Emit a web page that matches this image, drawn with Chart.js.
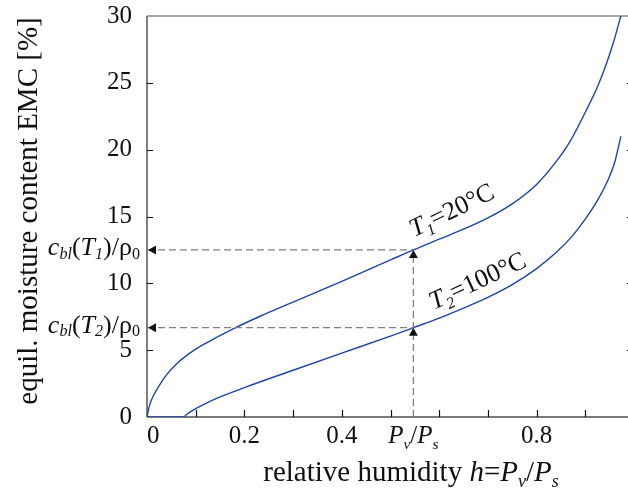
<!DOCTYPE html>
<html>
<head>
<meta charset="utf-8">
<script src="https://cdn.jsdelivr.net/npm/chart.js@4.4.1/dist/chart.umd.min.js"></script>
<style>
    html, body { margin: 0; padding: 0; background: #fff; overflow: hidden; }
    #wrap { position: relative; width: 640px; height: 490px; }
</style>
</head>
<body>
<div id="wrap"><canvas id="emc"></canvas></div>
<script>
// T1 = 20 degC isotherm
const H_T1 = [0, 0.005, 0.012, 0.025, 0.04, 0.06, 0.085, 0.11, 0.14, 0.18, 0.23, 0.3, 0.4, 0.5, 0.547,
    0.6, 0.65, 0.7, 0.75, 0.8, 0.84, 0.87, 0.9, 0.925, 0.945, 0.96, 0.973];
const EMC_T1 = [0, 0.85, 1.5, 2.35, 3.15, 3.95, 4.7, 5.3, 5.9, 6.65, 7.5, 8.6, 10.15, 11.75, 12.5,
    13.3, 14.05, 14.9, 15.95, 17.4, 19.1, 20.7, 22.8, 24.7, 26.6, 28.3, 30.0];
// T2 = 100 degC isotherm
const H_T2 = [0, 0.075, 0.08, 0.09, 0.1, 0.12, 0.15, 0.2, 0.3, 0.4, 0.5, 0.547, 0.6, 0.65, 0.7,
    0.75, 0.8, 0.84, 0.87, 0.9, 0.925, 0.945, 0.96, 0.973];
const EMC_T2 = [0, 0, 0.15, 0.4, 0.62, 1.0, 1.5, 2.2, 3.5, 4.78, 6.05, 6.68, 7.4, 8.15, 8.95,
    9.9, 11.1, 12.3, 13.4, 14.8, 16.2, 17.6, 19.0, 21.0];

// reading marks: h = Pv/Ps and the two EMC values
const H_READ = 0.547;
const EMC_READ = [12.5, 6.68];
const READ_SUBS = ['1', '2'];

const X_TICKS = [0, 0.2, 0.4, 0.8];
const X_MINOR = [0.1, 0.2, 0.3, 0.4, 0.5, 0.6, 0.7, 0.8, 0.9];
const Y_TICKS = [0, 5, 10, 15, 20, 25, 30];
const Y_MINOR = [5, 10, 15, 20, 25];

// curve labels, anchored at the start of their baseline
const CURVE_LABELS = [
    { h: 0.549, emc: 13.45, angle: -26, parts: [['T', 'i'], ['1', 'isub'], ['=20°C', 'r']] },
    { h: 0.589, emc: 8.0, angle: -25, parts: [['T', 'i'], ['2', 'isub'], ['=100°C', 'r']] }
];

const FONT = "'Liberation Serif', 'Times New Roman', serif";
const BLUE = '#1f44a8';
const DASH = '#808080';

function pts(xs, ys) {
    return xs.map(function (x, i) { return { x: x, y: ys[i] }; });
}

function drawParts(ctx, parts, x, y, size, align, subDrop) {
    const drop = subDrop === undefined ? 0.22 : subDrop;
    let w = 0;
    const items = parts.map(function (p) {
        const sub = p[1].indexOf('sub') >= 0;
        const it = p[1].indexOf('i') === 0;
        const fs = sub ? size * 0.62 : size;
        const font = (it ? 'italic ' : '') + fs + 'px ' + FONT;
        ctx.font = font;
        const item = { t: p[0], font: font, dx: w, dy: sub ? size * drop : 0 };
        w += ctx.measureText(p[0]).width;
        return item;
    });
    let x0 = x;
    if (align === 'right') x0 = x - w;
    else if (align === 'center') x0 = x - w / 2;
    items.forEach(function (it) {
        ctx.font = it.font;
        ctx.fillText(it.t, x0 + it.dx, y + it.dy);
    });
}

function arrow(ctx, x, y, dir) {
    ctx.beginPath();
    if (dir === 'left') {
        ctx.moveTo(x, y);
        ctx.lineTo(x + 8, y - 4.5);
        ctx.lineTo(x + 8, y + 4.5);
    } else {
        ctx.moveTo(x, y);
        ctx.lineTo(x - 4.5, y + 8);
        ctx.lineTo(x + 4.5, y + 8);
    }
    ctx.closePath();
    ctx.fill();
}

const decor = {
    id: 'decor',
    beforeDatasetsDraw(chart) {
        const ctx = chart.ctx;
        const a = chart.chartArea;
        const xs = chart.scales.x, ys = chart.scales.y;
        ctx.save();

        // frame
        ctx.lineWidth = 1.5;
        ctx.strokeStyle = '#8a8a8a';
        ctx.beginPath(); ctx.moveTo(a.left, a.top); ctx.lineTo(a.right, a.top); ctx.stroke();
        ctx.strokeStyle = '#7a7a7a';
        ctx.lineWidth = 2;
        ctx.beginPath(); ctx.moveTo(a.left, a.bottom); ctx.lineTo(a.right, a.bottom); ctx.stroke();
        ctx.strokeStyle = '#555';
        ctx.lineWidth = 1.5;
        ctx.beginPath(); ctx.moveTo(a.left, a.top); ctx.lineTo(a.left, a.bottom); ctx.stroke();

        // inward ticks
        ctx.strokeStyle = '#111';
        ctx.lineWidth = 1.2;
        ctx.beginPath();
        X_MINOR.forEach(function (v) {
            const px = Math.round(xs.getPixelForValue(v)) + 0.5;
            ctx.moveTo(px, a.bottom); ctx.lineTo(px, a.bottom - 7);
        });
        Y_MINOR.forEach(function (v) {
            const py = Math.round(ys.getPixelForValue(v)) + 0.5;
            ctx.moveTo(a.left, py); ctx.lineTo(a.left + 6, py);
            ctx.moveTo(a.right, py); ctx.lineTo(a.right - 7, py);
        });
        ctx.stroke();
        ctx.restore();
    },
    afterDatasetsDraw(chart) {
        const ctx = chart.ctx;
        const a = chart.chartArea;
        const xs = chart.scales.x, ys = chart.scales.y;
        ctx.save();

        // arrowheads
        ctx.fillStyle = '#111';
        const hx = xs.getPixelForValue(H_READ);
        EMC_READ.forEach(function (v) {
            const py = ys.getPixelForValue(v);
            arrow(ctx, a.left + 1, py, 'left');
            arrow(ctx, hx, py, 'up');
        });

        // y-side labels c_bl(T)/rho_0
        ctx.fillStyle = '#111';
        ctx.textBaseline = 'alphabetic';
        EMC_READ.forEach(function (v, i) {
            const py = ys.getPixelForValue(v) + 5;
            drawParts(ctx, [['c', 'i'], ['bl', 'isub'], ['(', 'r'], ['T', 'i'], [READ_SUBS[i], 'isub'],
                [')/', 'r'], ['ρ', 'r'], ['0', 'sub']], a.left - 7, py, 26, 'right', 0.14);
        });

        // x-side label Pv/Ps
        drawParts(ctx, [['P', 'i'], ['v', 'isub'], ['/', 'r'], ['P', 'i'], ['s', 'isub']],
            hx, a.bottom + 26, 25, 'center');

        // curve labels
        CURVE_LABELS.forEach(function (l) {
            ctx.save();
            ctx.translate(xs.getPixelForValue(l.h), ys.getPixelForValue(l.emc));
            ctx.rotate(l.angle * Math.PI / 180);
            drawParts(ctx, l.parts, 0, 0, 26, 'left');
            ctx.restore();
        });

        // axis titles
        drawParts(ctx, [['relative humidity ', 'r'], ['h', 'i'], ['=', 'r'], ['P', 'i'], ['v', 'isub'],
            ['/', 'r'], ['P', 'i'], ['s', 'isub']], 411, 481, 29, 'center');
        ctx.save();
        ctx.translate(37, 211);
        ctx.rotate(-Math.PI / 2);
        drawParts(ctx, [['equil. moisture content EMC [%]', 'r']], 0, 0, 29, 'center');
        ctx.restore();

        ctx.restore();
    }
};

const dashed = { borderColor: DASH, borderWidth: 1.3, borderDash: [7, 4], showLine: true, pointRadius: 0 };

new Chart(document.getElementById('emc').getContext('2d'), {
    type: 'scatter',
    data: {
        datasets: [
            Object.assign({ data: pts([0, H_READ], [EMC_READ[0], EMC_READ[0]]) }, dashed),
            Object.assign({ data: pts([0, H_READ], [EMC_READ[1], EMC_READ[1]]) }, dashed),
            Object.assign({ data: pts([H_READ, H_READ], [0, EMC_READ[0]]) }, dashed),
            {
                label: 'T1 = 20°C',
                data: pts(H_T1, EMC_T1),
                showLine: true,
                borderColor: BLUE,
                borderWidth: 1.4,
                pointRadius: 0,
                cubicInterpolationMode: 'monotone'
            },
            {
                label: 'T2 = 100°C',
                data: pts(H_T2, EMC_T2),
                showLine: true,
                borderColor: BLUE,
                borderWidth: 1.4,
                pointRadius: 0,
                cubicInterpolationMode: 'monotone'
            }
        ]
    },
    options: {
        responsive: true,
        maintainAspectRatio: false,
        animation: false,
        layout: { padding: { top: 16, right: 6, left: 0, bottom: 0 } },
        plugins: { legend: { display: false }, tooltip: { enabled: false } },
        scales: {
            x: {
                type: 'linear',
                min: 0,
                max: 1,
                grid: { display: false },
                border: { display: false },
                afterBuildTicks: function (s) { s.ticks = X_TICKS.map(function (v) { return { value: v }; }); },
                afterFit: function (s) { s.height = 73; s.paddingLeft = 0; s.paddingRight = 0; },
                ticks: {
                    color: '#111',
                    padding: -4,
                    font: { family: FONT, size: 25 },
                    callback: function (v) { return v === 0 ? '\u20020' : String(v); }
                }
            },
            y: {
                min: 0,
                max: 30,
                grid: { display: false },
                border: { display: false },
                afterBuildTicks: function (s) { s.ticks = Y_TICKS.map(function (v) { return { value: v }; }); },
                afterFit: function (s) { s.width = 147; s.paddingTop = 0; s.paddingBottom = 0; },
                ticks: {
                    color: '#111',
                    padding: 7,
                    font: { family: FONT, size: 25 }
                }
            }
        }
    },
    plugins: [decor]
});
</script>
</body>
</html>
